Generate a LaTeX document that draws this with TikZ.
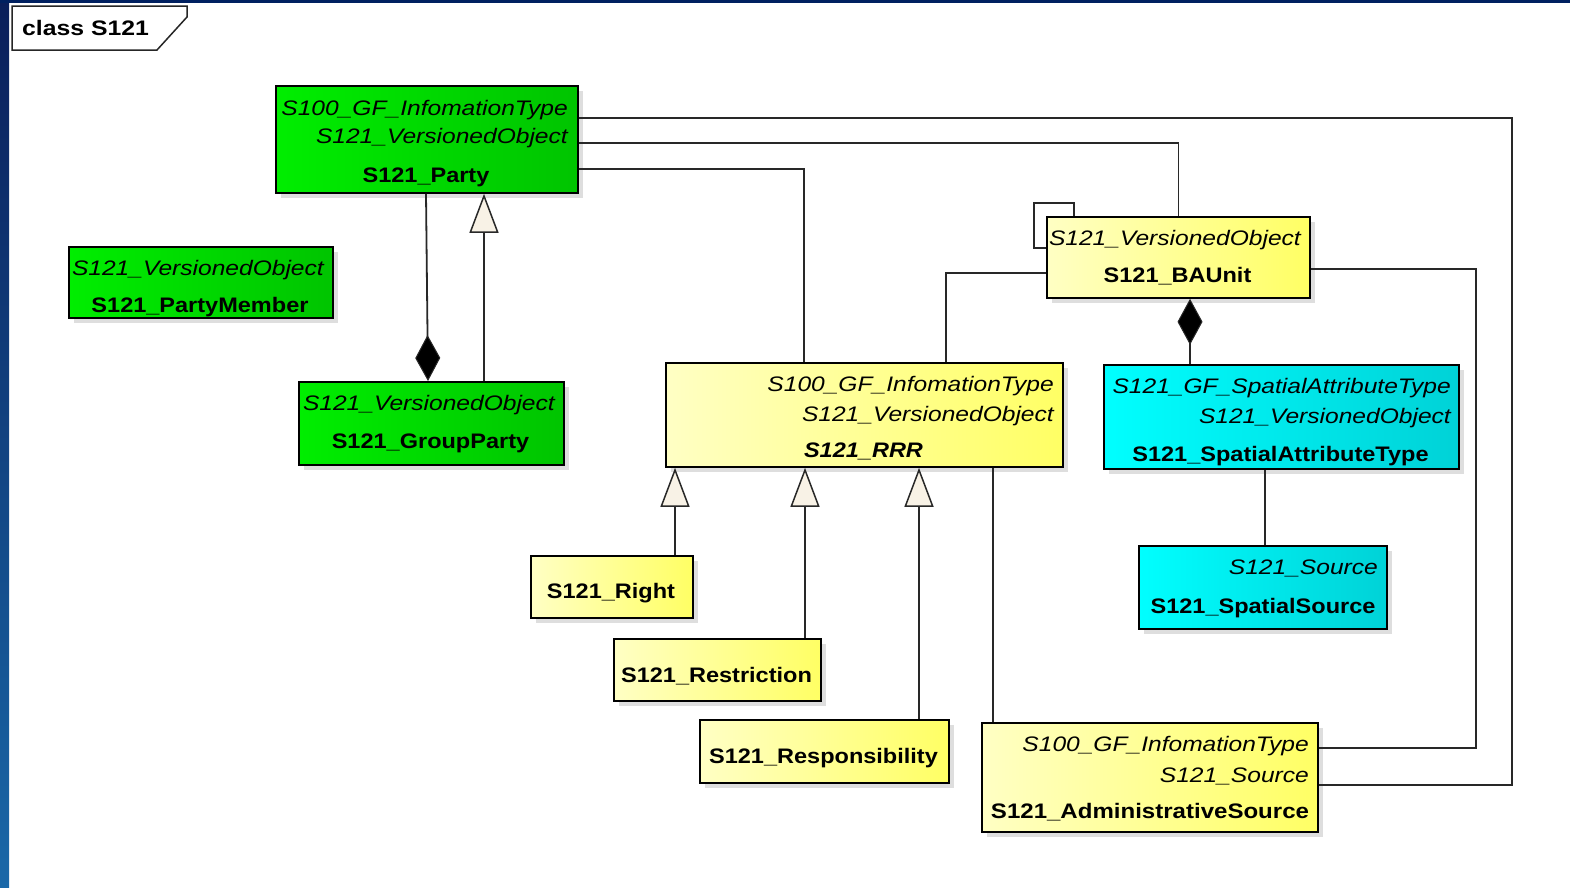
\documentclass[tikz,border=0pt]{standalone}
\usepackage{fontspec}
\setmainfont{Liberation Sans}
\usepackage{graphicx}
\usetikzlibrary{arrows.meta,shadows}
\definecolor{grnL}{RGB}{0,238,0}
\definecolor{grnR}{RGB}{0,196,0}
\definecolor{yelL}{RGB}{255,255,196}
\definecolor{yelR}{RGB}{255,255,100}
\definecolor{cyaL}{RGB}{0,255,255}
\definecolor{cyaR}{RGB}{0,210,215}
\definecolor{navyT}{RGB}{10,30,90}
\definecolor{navyM}{RGB}{0,51,153}
\definecolor{navyB}{RGB}{26,104,168}
\definecolor{navyBar}{RGB}{0,32,96}
\definecolor{lineC}{RGB}{40,40,40}
\definecolor{triF}{RGB}{248,242,230}
\newcommand{\itl}[1]{\scalebox{1.17}[1]{\itshape #1}}
\newcommand{\bdl}[1]{\scalebox{1.12}[1]{\bfseries #1}}
\newcommand{\bil}[1]{\scalebox{1.12}[1]{\bfseries\itshape #1}}
\newcommand{\clsbox}[6]{\node[cls,#6,anchor=north west,minimum width={#4-#2},minimum height={#5-#3}] (#1) at (#2,#3) {};}
\begin{document}
\begin{tikzpicture}[x=1pt,y=-1pt,
  cls/.style={draw=black,line width=1.8pt,inner sep=0pt,
    drop shadow={shadow xshift=5pt,shadow yshift=-5pt,fill=black,opacity=0.13}},
  green/.style={left color=grnL,right color=grnR},
  yellow/.style={left color=yelL,right color=yelR},
  cyan/.style={left color=cyaL,right color=cyaR},
  txt/.style={inner sep=0pt,font=\fontsize{21}{25}\selectfont,text=black},
  conn/.style={draw=lineC,line width=1.8pt},
  gen/.style={conn,-{Triangle[length=39pt,width=29pt,fill=triF,line width=1.5pt]}},
  comp/.style={conn,-{Diamond[length=46pt,width=25pt,fill=black,line width=1pt]}},
  compr/.style={conn,{Diamond[length=46pt,width=25pt,fill=black,line width=1pt]}-}]
\useasboundingbox (0,0) rectangle (1570,887);
\fill[white] (0,0) rectangle (1570,887);
\shade[top color=navyT,middle color=navyM,bottom color=navyB] (0,0) rectangle (9,887);
\fill[navyBar] (0,0) rectangle (1570,3);

% frame label
\draw[fill=white,line width=1.5pt,draw=black!85] (12,6) -- (187,6) -- (187,17) -- (157,50) -- (12,50) -- cycle;
\node[txt,anchor=base west] (frame) at (22,35) {\scalebox{1.18}[1]{\bfseries class S121}};

% boxes
\clsbox{party}{275}{85}{577}{192}{green}
\clsbox{pmem}{68}{246}{332}{317}{green}
\clsbox{gp}{298}{381}{563}{464}{green}
\clsbox{bau}{1046}{216}{1309}{297}{yellow}
\clsbox{rrr}{665}{362}{1062}{466}{yellow}
\clsbox{sat}{1103}{364}{1458}{468}{cyan}
\clsbox{ssrc}{1138}{545}{1386}{628}{cyan}
\clsbox{right}{530}{555}{692}{617}{yellow}
\clsbox{restr}{613}{638}{820}{700}{yellow}
\clsbox{resp}{699}{719}{948}{782}{yellow}
\clsbox{adm}{981}{722}{1317}{831}{yellow}

% connectors
\draw[conn] (party.east |- 0,118) -| (1512,785) -- (adm.east |- 0,785);
\draw[conn] (party.east |- 0,143) -| (bau.north);
\draw[conn] (party.east |- 0,169) -| (804,0 |- rrr.north);
\draw[conn] (bau.west |- 0,248) -- (1034,248) -- (1034,203) -- (1074,203) -- (1074,0 |- bau.north);
\draw[conn] (bau.west |- 0,273) -| (946,0 |- rrr.north);
\draw[conn] (bau.east |- 0,269) -| (1476,748) -- (adm.east |- 0,748);
\draw[conn] (1265,0 |- sat.south) -- (1265,0 |- ssrc.north);
\draw[conn] (993,0 |- rrr.south) -- (993,0 |- adm.north);

\draw[comp] (426,0 |- party.south) -- (428,0 |- gp.north);
\draw[gen] (484,0 |- gp.north) -- (484,0 |- party.south);
\draw[compr] (1190,0 |- bau.south) -- (1190,0 |- sat.north);
\draw[gen] (675,0 |- right.north) -- (675,0 |- rrr.south);
\draw[gen] (805,0 |- restr.north) -- (805,0 |- rrr.south);
\draw[gen] (919,0 |- resp.north) -- (919,0 |- rrr.south);

% texts
\node[txt,anchor=base east] (party-a) at (568,115) {\itl{S100\_GF\_InfomationType}};
\node[txt,anchor=base east] (party-b) at (568,143) {\itl{S121\_VersionedObject}};
\node[txt,anchor=base] (party-c) at (426,182) {\bdl{S121\_Party}};

\node[txt,anchor=base east] (pmem-a) at (324,275) {\itl{S121\_VersionedObject}};
\node[txt,anchor=base] (pmem-b) at (200,312) {\bdl{S121\_PartyMember}};

\node[txt,anchor=base east] (gp-a) at (555,410) {\itl{S121\_VersionedObject}};
\node[txt,anchor=base] (gp-b) at (430.5,448) {\bdl{S121\_GroupParty}};

\node[txt,anchor=base east] (bau-a) at (1301,245) {\itl{S121\_VersionedObject}};
\node[txt,anchor=base] (bau-b) at (1177.5,282) {\bdl{S121\_BAUnit}};

\node[txt,anchor=base east] (rrr-a) at (1054,391) {\itl{S100\_GF\_InfomationType}};
\node[txt,anchor=base east] (rrr-b) at (1054,421) {\itl{S121\_VersionedObject}};
\node[txt,anchor=base] (rrr-c) at (863.5,457) {\bil{S121\_RRR}};

\node[txt,anchor=base east] (sat-a) at (1451,393) {\itl{S121\_GF\_SpatialAttributeType}};
\node[txt,anchor=base east] (sat-b) at (1451,423) {\itl{S121\_VersionedObject}};
\node[txt,anchor=base] (sat-c) at (1280.5,461) {\bdl{S121\_SpatialAttributeType}};

\node[txt,anchor=base east] (ssrc-a) at (1378,574) {\itl{S121\_Source}};
\node[txt,anchor=base] (ssrc-b) at (1263,613) {\bdl{S121\_SpatialSource}};

\node[txt,anchor=base] (right-a) at (611,598) {\bdl{S121\_Right}};
\node[txt,anchor=base] (restr-a) at (716.5,682) {\bdl{S121\_Restriction}};
\node[txt,anchor=base] (resp-a) at (823.5,763) {\bdl{S121\_Responsibility}};

\node[txt,anchor=base east] (adm-a) at (1309,751) {\itl{S100\_GF\_InfomationType}};
\node[txt,anchor=base east] (adm-b) at (1309,782) {\itl{S121\_Source}};
\node[txt,anchor=base] (adm-c) at (1150,818) {\scalebox{1.145}[1]{\bfseries S121\_AdministrativeSource}};
\end{tikzpicture}
\end{document}
